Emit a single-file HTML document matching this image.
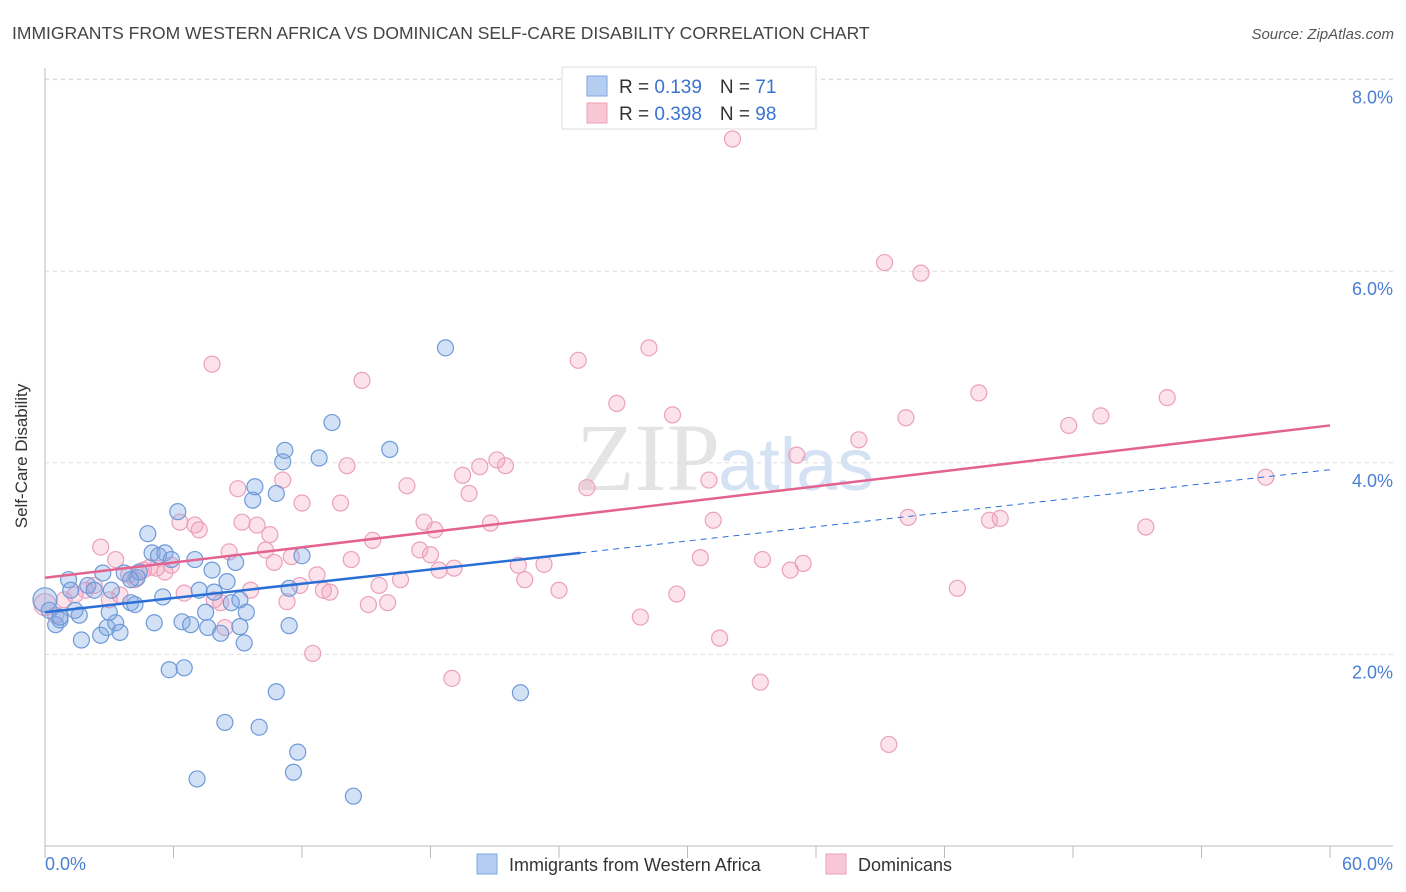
<!DOCTYPE html>
<html><head><meta charset="utf-8"><style>
body{margin:0;background:#fff;font-family:"Liberation Sans",sans-serif;}
svg{display:block}
</style></head><body>
<svg id="chart" width="1406" height="892">
<text x="12" y="39" font-size="17.5" fill="#444">IMMIGRANTS FROM WESTERN AFRICA VS DOMINICAN SELF-CARE DISABILITY CORRELATION CHART</text>
<text x="1394" y="39" font-size="15" fill="#555" font-style="italic" text-anchor="end">Source: ZipAtlas.com</text>
<text x="720" y="490" font-size="96" fill="#e4e4e4" text-anchor="end" font-family="Liberation Serif,serif">ZIP</text>
<text x="718" y="490" font-size="74" fill="#d5e2f3">atlas</text>
<g id="grid"></g>
<g id="axes"></g>
<g id="pts"></g>
<g id="lines"></g>
<text x="27" y="456" font-size="17" fill="#333" text-anchor="middle" transform="rotate(-90 27 456)">Self-Care Disability</text>
<text x="45" y="870" font-size="18" fill="#4a7fd4">0.0%</text>
<text x="1393" y="870" font-size="18" fill="#4a7fd4" text-anchor="end">60.0%</text>
<g>
<rect x="562" y="67" width="254" height="62" fill="#fff" stroke="#ddd"/>
<rect x="587" y="76" width="20" height="20" fill="#b5cdf0" stroke="#7ea6e0"/>
<rect x="587" y="103" width="20" height="20" fill="#f9c6d6" stroke="#eaa2bc"/>
<text x="619" y="93" font-size="19" fill="#333">R = <tspan fill="#3a73d0">0.139</tspan><tspan dx="18">N = </tspan><tspan fill="#3a73d0">71</tspan></text>
<text x="619" y="120" font-size="19" fill="#333">R = <tspan fill="#3a73d0">0.398</tspan><tspan dx="18">N = </tspan><tspan fill="#3a73d0">98</tspan></text>
</g>
<g>
<rect x="477" y="854" width="20" height="20" fill="#b5cdf0" stroke="#7ea6e0"/>
<text x="509" y="871" font-size="18" fill="#333">Immigrants from Western Africa</text>
<rect x="826" y="854" width="20" height="20" fill="#f9c6d6" stroke="#eaa2bc"/>
<text x="858" y="871" font-size="18" fill="#333">Dominicans</text>
</g>
</svg>
<script>
const yTicks=[2,4,6,8];
const yTickLabels=["2.0%","4.0%","6.0%","8.0%"];
const xTicks=[0,6,12,18,24,30,36,42,48,54,60];
const blueX=[0,0.2,0.5,0.7,1.1,1.2,1.6,1.7,2.0,2.3,2.6,2.7,2.9,3.1,3.3,3.5,3.7,4.0,4.2,4.3,4.4,4.8,5.0,5.1,5.3,5.5,5.6,5.8,5.9,6.2,6.4,6.5,6.8,7.0,7.2,7.5,7.6,7.8,7.9,8.2,8.4,8.5,8.7,8.9,9.1,9.3,9.4,9.7,9.8,10.0,10.8,10.8,11.1,11.2,11.4,11.6,11.8,12.0,11.4,12.8,13.4,14.4,16.1,18.7,22.2,7.1,9.1,3.0,4.0,1.4,0.7];
const blueY=[2.57,2.46,2.31,2.36,2.78,2.67,2.41,2.15,2.72,2.67,2.20,2.85,2.28,2.67,2.33,2.23,2.85,2.54,2.52,2.80,2.86,3.26,3.06,2.33,3.03,2.60,3.06,1.84,2.99,3.49,2.34,1.86,2.31,2.99,2.67,2.44,2.28,2.88,2.65,2.22,1.29,2.76,2.54,2.96,2.29,2.12,2.44,3.61,3.75,1.24,3.68,1.61,4.01,4.13,2.30,0.77,0.98,3.03,2.69,4.05,4.42,0.52,4.14,5.20,1.60,0.70,2.57,2.44,2.78,2.46,2.39];
const pinkX=[0,0.5,0.9,1.4,1.9,2.3,2.6,3.0,3.3,3.5,3.9,4.2,4.6,4.9,5.2,5.6,5.9,6.3,6.5,7.0,7.2,7.8,7.9,8.2,8.4,8.6,9.0,9.2,9.6,9.9,10.3,10.5,10.7,11.1,11.3,11.5,11.9,12.0,12.5,12.7,13.0,13.3,13.8,14.1,14.3,14.8,15.1,15.3,15.6,16.0,16.6,16.9,17.5,17.7,18.0,18.2,18.4,19.0,19.1,19.5,19.8,20.3,20.8,21.1,21.5,22.1,22.4,23.3,24.0,24.9,25.3,26.7,27.8,28.2,29.3,29.5,30.6,31.0,31.2,31.5,32.1,33.4,33.5,34.8,35.1,35.4,38.0,39.2,39.4,40.2,40.3,40.9,42.6,43.6,44.1,44.6,47.8,49.3,51.4,52.4,57.0];
const pinkY=[2.52,2.41,2.57,2.62,2.67,2.72,3.12,2.57,2.99,2.62,2.83,2.78,2.88,2.91,2.90,2.86,2.93,3.38,2.64,3.35,3.30,5.03,2.57,2.54,2.28,3.07,3.73,3.38,2.67,3.35,3.09,3.25,2.96,3.82,2.55,3.02,2.72,3.58,2.01,2.83,2.67,2.65,3.58,3.97,2.99,4.86,2.52,3.19,2.72,2.54,2.78,3.76,3.09,3.38,3.04,3.30,2.88,1.75,2.90,3.87,3.68,3.96,3.37,4.03,3.97,2.93,2.78,2.94,2.67,5.07,3.74,4.62,2.39,5.20,4.50,2.63,3.01,3.82,3.40,2.17,7.38,1.71,2.99,2.88,4.08,2.95,4.24,6.09,1.06,4.47,3.43,5.98,2.69,4.73,3.40,3.42,4.39,4.49,3.33,4.68,3.85];
const blueFit=[2.44,0.0248];
const pinkFit=[2.80,0.0265];
const NS="http://www.w3.org/2000/svg";
const X=v=>45+v*(1285/60);
const Y=v=>846-v*95.8;
function mk(t,a,p){const e=document.createElementNS(NS,t);for(const k in a)e.setAttribute(k,a[k]);(p||document.getElementById('chart')).appendChild(e);return e;}
const gridG=document.getElementById('grid'),axesG=document.getElementById('axes'),ptsG=document.getElementById('pts'),linesG=document.getElementById('lines');
yTicks.forEach((t,i)=>{
 const l=mk('line',{x1:45,x2:1393,y1:Y(t),y2:Y(t),stroke:'#ddd','stroke-dasharray':'4,4'},gridG);
 
 
 const tx=mk('text',{x:1393,y:Y(t)+24,'font-size':18,fill:'#4a7fd4','text-anchor':'end'},axesG);
 tx.textContent=yTickLabels[i];
 
 
});
const topGrid=mk('line',{x1:45,x2:1393,y1:79,y2:79,stroke:'#ddd','stroke-dasharray':'4,4'},gridG);


const xa=mk('line',{x1:45,x2:1393,y1:846,y2:846,stroke:'#bbb'},axesG);


const ya=mk('line',{x1:45,x2:45,y1:68,y2:846,stroke:'#bbb'},axesG);


xTicks.forEach(t=>{
 const l=mk('line',{x1:X(t),x2:X(t),y1:846,y2:858,stroke:'#bbb'},axesG);
 
 
});
pinkX.forEach((x,i)=>{
 const c=mk('circle',{cx:X(x),cy:Y(pinkY[i]),r:i==0?11:8,fill:'rgba(244,160,190,0.3)',stroke:'#eba0bb','stroke-width':1.2},ptsG);
 
 
});
blueX.forEach((x,i)=>{
 const c=mk('circle',{cx:X(x),cy:Y(blueY[i]),r:i==0?12:8,fill:'rgba(130,170,230,0.35)',stroke:'#6e9ad8','stroke-width':1.2},ptsG);
 
 
});
const bs=mk('line',{x1:X(0),y1:Y(blueFit[0]),x2:X(25),y2:Y(blueFit[0]+25*blueFit[1]),stroke:'#2a6fd6','stroke-width':2.5},linesG);


const bd=mk('line',{x1:X(25),y1:Y(blueFit[0]+25*blueFit[1]),x2:X(60),y2:Y(blueFit[0]+60*blueFit[1]),stroke:'#2a6fd6','stroke-width':1,'stroke-dasharray':'6,5'},linesG);


const pl=mk('line',{x1:X(0),y1:Y(pinkFit[0]),x2:X(60),y2:Y(pinkFit[0]+60*pinkFit[1]),stroke:'#e3628f','stroke-width':2.5},linesG);


</script>
</body></html>
